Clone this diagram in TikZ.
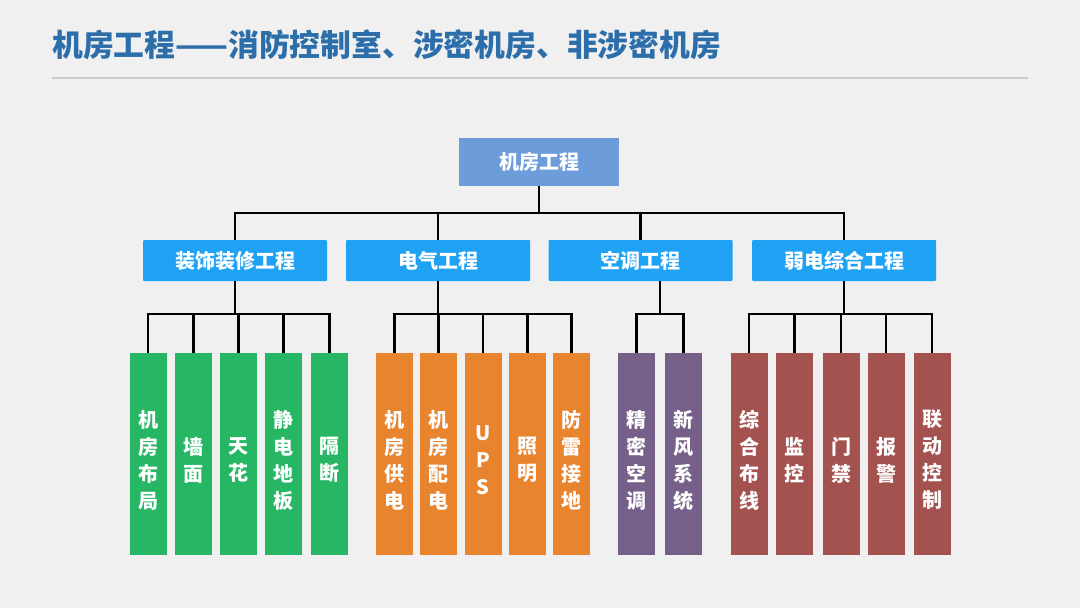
\documentclass[tikz,border=0pt]{standalone}
\usepackage{fontspec}
\setmainfont{Noto Sans CJK SC}
\usetikzlibrary{calc}
\definecolor{bg}{RGB}{240,240,240}
\definecolor{titleblue}{RGB}{44,110,170}
\definecolor{rulegray}{RGB}{204,204,204}
\definecolor{topblue}{RGB}{108,157,218}
\definecolor{midblue}{RGB}{32,162,244}
\definecolor{leafgreen}{RGB}{38,182,100}
\definecolor{leaforange}{RGB}{232,131,46}
\definecolor{leafpurple}{RGB}{118,96,138}
\definecolor{leafred}{RGB}{164,82,80}
\begin{document}
\begin{tikzpicture}[x=1pt,y=-1pt,
  box/.style={rectangle, inner sep=0pt, text=white, font=\fontsize{20}{24}\selectfont\bfseries},
  topbox/.style={box, fill=topblue, minimum width=160pt, minimum height=48pt},
  midbox/.style={box, fill=midblue, minimum width=184pt, minimum height=41pt, rounded corners=1pt},
  leaf/.style={box, minimum width=37pt, minimum height=202pt},
  leaftext/.style={inner sep=0pt, text=white, align=center, yshift=-6pt, font=\fontsize{20}{27}\selectfont\bfseries},
  gleaf/.style={leaf, fill=leafgreen},
  oleaf/.style={leaf, fill=leaforange},
  pleaf/.style={leaf, fill=leafpurple},
  rleaf/.style={leaf, fill=leafred},
  conn/.style={draw=black, line width=2.5pt}
]
\fill[bg] (0,0) rectangle (1080,608);
\useasboundingbox (0,0) rectangle (1080,608);
% title
\node[anchor=west, text=titleblue, inner sep=0pt, font=\fontsize{30.8}{34}\selectfont\bfseries] (title) at (52,45) {机房工程——消防控制室、涉密机房、非涉密机房};
\draw[rulegray, line width=1.5pt] (52,78) -- (1028,78);
% top
\node[topbox] (top) at (539,162) {机房工程};
% second level
\node[midbox] (s1) at (235,260.5) {装饰装修工程};
\node[midbox] (s2) at (438,260.5) {电气工程};
\node[midbox] (s3) at (640.5,260.5) {空调工程};
\node[midbox] (s4) at (844,260.5) {弱电综合工程};
% leaves
\node[gleaf, label={[leaftext]center:机\\房\\布\\局}] (g1) at (148,454) {};
\node[gleaf, label={[leaftext]center:墙\\面}] (g2) at (193.5,454) {};
\node[gleaf, label={[leaftext]center:天\\花}] (g3) at (238.5,454) {};
\node[gleaf, label={[leaftext]center:静\\电\\地\\板}] (g4) at (283.5,454) {};
\node[gleaf, label={[leaftext]center:隔\\断}] (g5) at (329.5,454) {};
\node[oleaf, label={[leaftext]center:机\\房\\供\\电}] (o1) at (394.5,454) {};
\node[oleaf, label={[leaftext]center:机\\房\\配\\电}] (o2) at (438.5,454) {};
\node[oleaf, label={[leaftext]center:U\\P\\S}] (o3) at (483,454) {};
\node[oleaf, label={[leaftext]center:照\\明}] (o4) at (527.5,454) {};
\node[oleaf, label={[leaftext]center:防\\雷\\接\\地}] (o5) at (571.5,454) {};
\node[pleaf, label={[leaftext]center:精\\密\\空\\调}] (p1) at (636.5,454) {};
\node[pleaf, label={[leaftext]center:新\\风\\系\\统}] (p2) at (683.5,454) {};
\node[rleaf, label={[leaftext]center:综\\合\\布\\线}] (r1) at (749,454) {};
\node[rleaf, label={[leaftext]center:监\\控}] (r2) at (794.5,454) {};
\node[rleaf, label={[leaftext]center:门\\禁}] (r3) at (841,454) {};
\node[rleaf, label={[leaftext]center:报\\警}] (r4) at (886,454) {};
\node[rleaf, label={[leaftext]center:联\\动\\控\\制}] (r5) at (932,454) {};
% connectors top -> second
\foreach \s in {s1,s2,s3,s4}
  \draw[conn] (top.south) -- ++(0,27) -| (\s.north);
% second -> leaves
\foreach \l in {g1,g2,g3,g4,g5}
  \draw[conn] (s1.south) -- ++(0,33) -| (\l.north);
\foreach \l in {o1,o2,o3,o4,o5}
  \draw[conn] (s2.south) -- ++(0,33) -| (\l.north);
\coordinate (k3) at ($(p1.north)!0.5!(p2.north)$);
\foreach \l in {p1,p2}
  \draw[conn] (s3.south -| k3) -- ++(0,33) -| (\l.north);
\foreach \l in {r1,r2,r3,r4,r5}
  \draw[conn] (s4.south) -- ++(0,33) -| (\l.north);
\end{tikzpicture}
\end{document}
